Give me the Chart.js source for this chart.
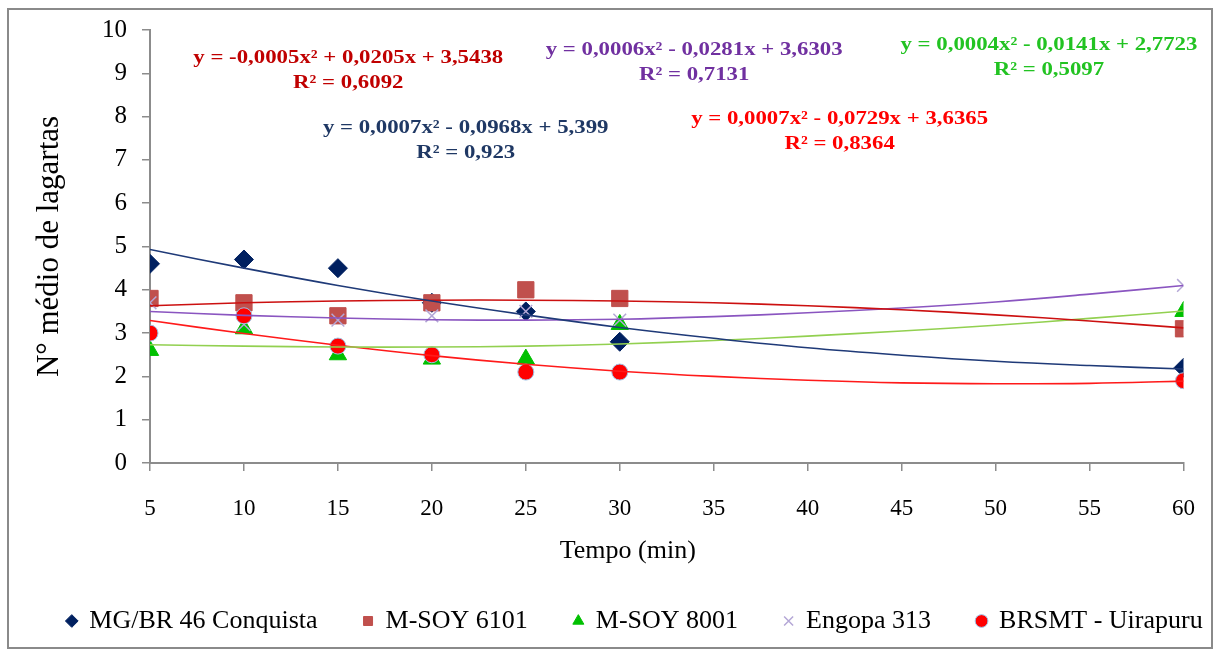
<!DOCTYPE html>
<html>
<head>
<meta charset="utf-8">
<script src="https://cdn.jsdelivr.net/npm/chart.js@4.4.1/dist/chart.umd.min.js"></script>
<style>
  html, body { margin: 0; padding: 0; background: #fff; }
  #wrap { width: 1219px; height: 654px; position: relative; }
</style>
</head>
<body>
<div id="wrap"><canvas id="chart"></canvas></div>
<script>
// Observed times (min) and mean caterpillar counts per cultivar
const tempos = [5, 10, 15, 20, 25, 30, 60];
const conquista = [4.6, 4.7, 4.5, 3.7, 3.5, 2.8, 2.2];
const msoy6101 = [3.8, 3.7, 3.4, 3.7, 4.0, 3.8, 3.1];
const msoy8001 = [2.6, 3.1, 2.5, 2.4, 2.4, 3.2, 3.5];
const engopa = [3.7, 3.2, 3.3, 3.4, 3.5, 3.3, 4.1];
const uirapuru = [3.0, 3.4, 2.7, 2.5, 2.1, 2.1, 1.9];

// Trend lines at every x tick
const trendX = [5, 10, 15, 20, 25, 30, 35, 40, 45, 50, 55, 60];
const trendConquista = [4.93, 4.50, 4.10, 3.74, 3.42, 3.13, 2.88, 2.66, 2.49, 2.35, 2.25, 2.17];
const trend6101 = [3.63, 3.70, 3.74, 3.76, 3.76, 3.74, 3.70, 3.63, 3.54, 3.42, 3.28, 3.12];
const trend8001 = [2.73, 2.70, 2.68, 2.68, 2.70, 2.75, 2.83, 2.93, 3.05, 3.18, 3.34, 3.51];
const trendEngopa = [3.50, 3.41, 3.35, 3.31, 3.30, 3.32, 3.38, 3.47, 3.58, 3.72, 3.90, 4.10];
const trendUirapuru = [3.29, 2.99, 2.72, 2.48, 2.28, 2.12, 2.00, 1.91, 1.85, 1.83, 1.84, 1.89];

const seriesNames = ['MG/BR 46 Conquista', 'M-SOY 6101', 'M-SOY 8001', 'Engopa 313', 'BRSMT - Uirapuru'];
const equations = [
    'y = 0,0007x² - 0,0968x + 5,399',
    'y = -0,0005x² + 0,0205x + 3,5438',
    'y = 0,0004x² - 0,0141x + 2,7723',
    'y = 0,0006x² - 0,0281x + 3,6303',
    'y = 0,0007x² - 0,0729x + 3,6365'
];
const r2Labels = ['R² = 0,923', 'R² = 0,6092', 'R² = 0,5097', 'R² = 0,7131', 'R² = 0,8364'];

const serif = '"Liberation Serif", "Times New Roman", serif';

function pts(xs, ys) {
    return xs.map((x, i) => ({ x: x, y: ys[i] }));
}

function markerSet(label, ys, style, fill, border, radius, order, bw) {
    return {
        label: label,
        data: pts(tempos, ys),
        pointStyle: style,
        pointRadius: radius,
        pointHoverRadius: radius,
        backgroundColor: fill,
        borderColor: border,
        borderWidth: bw,
        showLine: false,
        order: order
    };
}

function trendSet(ys, color) {
    return {
        label: 'trend',
        data: pts(trendX, ys),
        showLine: true,
        pointRadius: 0,
        borderColor: color,
        borderWidth: 1.6,
        tension: 0.4,
        fill: false,
        order: 0
    };
}

// Equation labels placed in data coordinates (text is drawn a bit wide, like the original)
const eqPlacement = {
    id: 'eqPlacement',
    afterDatasetsDraw(chart, args, opts) {
        const ctx = chart.ctx;
        const xs = chart.scales.x, ys = chart.scales.y;
        const stretch = 1.2;
        ctx.save();
        ctx.font = 'bold 19px ' + serif;
        ctx.textAlign = 'center';
        ctx.textBaseline = 'middle';
        opts.items.forEach(it => {
            const px = xs.getPixelForValue(it.x);
            const py = ys.getPixelForValue(it.y);
            ctx.fillStyle = it.color;
            ctx.save();
            ctx.translate(px, py);
            ctx.scale(stretch, 1);
            ctx.fillText(equations[it.idx], 0, 0);
            ctx.fillText(r2Labels[it.idx], 0, 25);
            ctx.restore();
        });
        ctx.restore();
    }
};

// The original legend sits a little right of centre
const legendNudge = {
    id: 'legendNudge',
    afterLayout(chart) {
        if (chart.legend) {
            chart.legend.left += 36;
            chart.legend.right += 36;
        }
    }
};

const frame = {
    id: 'frame',
    beforeDraw(chart) {
        const ctx = chart.ctx;
        ctx.save();
        ctx.fillStyle = '#fff';
        ctx.fillRect(0, 0, chart.width, chart.height);
        ctx.strokeStyle = '#8a8a8a';
        ctx.lineWidth = 2;
        ctx.strokeRect(8, 9, chart.width - 15, chart.height - 15);
        ctx.restore();
    }
};

const axisColor = '#8c8c8c';

new Chart(document.getElementById('chart'), {
    type: 'scatter',
    data: {
        datasets: [
            markerSet(seriesNames[0], conquista, 'rectRot', '#002060', '#002060', 9.5, 5, 1),
            markerSet(seriesNames[1], msoy6101, 'rect', '#C0504D', '#C0504D', 11.5, 4, 1),
            markerSet(seriesNames[2], msoy8001, 'triangle', '#00C000', '#00C000', 10, 3, 1),
            markerSet(seriesNames[3], engopa, 'crossRot', '#B4A7D6', '#B4A7D6', 9, 2, 1.5),
            markerSet(seriesNames[4], uirapuru, 'circle', '#FF0000', '#9DC3E6', 8, 1, 1),
            trendSet(trendConquista, '#1F3A78'),
            trendSet(trend6101, '#CC1010'),
            trendSet(trend8001, '#92D050'),
            trendSet(trendEngopa, '#8A55C0'),
            trendSet(trendUirapuru, '#FF1A1A')
        ]
    },
    options: {
        responsive: true,
        maintainAspectRatio: false,
        animation: false,
        layout: { padding: { left: 0, right: 21, top: 30, bottom: 10 } },
        plugins: {
            tooltip: { enabled: false },
            legend: {
                position: 'bottom',
                labels: {
                    usePointStyle: true,
                    boxWidth: 9,
                    boxHeight: 9,
                    padding: 20,
                    color: '#000',
                    font: { family: serif, size: 26 },
                    generateLabels: chart => {
                        const items = Chart.defaults.plugins.legend.labels.generateLabels(chart);
                        // a little extra room between entries
                        items.forEach(it => {
                            if (it.datasetIndex < 4) it.text = it.text + '\u2002\u2002';
                        });
                        return items;
                    },
                    filter: item => item.datasetIndex < 5,
                    sort: (a, b) => a.datasetIndex - b.datasetIndex
                }
            },
            eqPlacement: {
                items: [
                    { idx: 1, x: 15.55, y: 9.35, color: '#C00000' },
                    { idx: 0, x: 21.8, y: 7.73, color: '#1F3864' },
                    { idx: 3, x: 33.96, y: 9.54, color: '#7030A0' },
                    { idx: 4, x: 41.7, y: 7.94, color: '#FF0000' },
                    { idx: 2, x: 52.84, y: 9.65, color: '#22C322' }
                ]
            }
        },
        scales: {
            x: {
                type: 'linear',
                min: 5,
                max: 60,
                afterFit: s => { s.height = 125; },
                ticks: {
                    stepSize: 5,
                    padding: 24,
                    color: '#000',
                    font: { family: serif, size: 23 }
                },
                grid: { drawOnChartArea: false, drawTicks: true, tickLength: 8, color: axisColor, lineWidth: 1.5 },
                border: { color: axisColor, width: 2 },
                title: {
                    display: true,
                    // trailing em spaces nudge the centred title left, as in the original
                    text: 'Tempo (min)\u2003\u2003\u2003',
                    color: '#000',
                    font: { family: serif, size: 26 },
                    padding: { top: 0, bottom: 21 }
                }
            },
            y: {
                min: 0,
                max: 10,
                afterFit: s => { s.width = 150; },
                ticks: {
                    stepSize: 1,
                    padding: 15,
                    color: '#000',
                    font: { family: serif, size: 25 }
                },
                grid: { drawOnChartArea: false, drawTicks: true, tickLength: 8, color: axisColor, lineWidth: 1.5 },
                border: { color: axisColor, width: 2 },
                title: {
                    display: true,
                    text: 'N° médio de lagartas',
                    color: '#000',
                    font: { family: serif, size: 31 },
                    padding: { top: 31, bottom: 0 }
                }
            }
        }
    },
    plugins: [frame, eqPlacement, legendNudge]
});
</script>
</body>
</html>
